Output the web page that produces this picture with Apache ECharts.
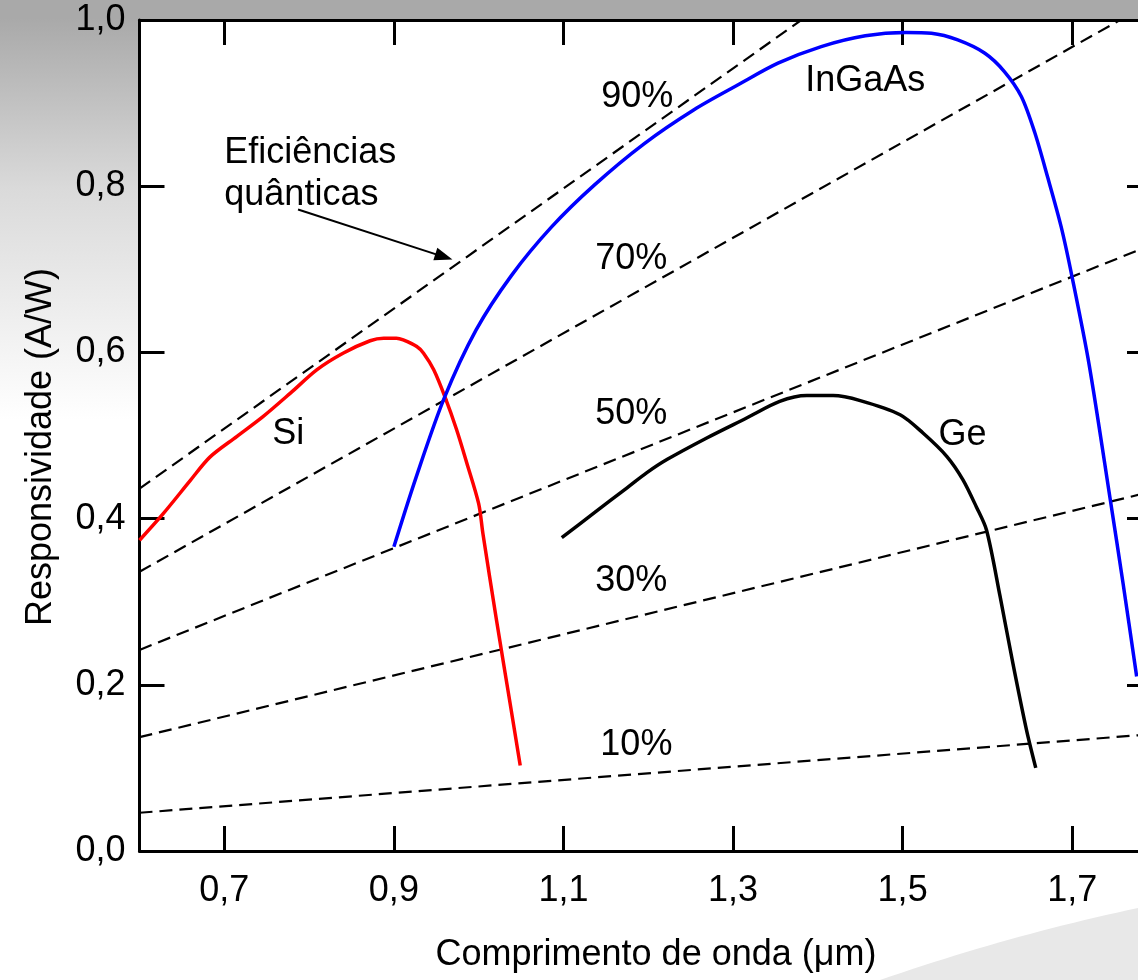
<!DOCTYPE html>
<html>
<head>
<meta charset="utf-8">
<script src="https://cdn.jsdelivr.net/npm/echarts@6/dist/echarts.min.js"></script>
<style>
  html, body { margin: 0; padding: 0; background: #ffffff; }
  #chart { width: 1138px; height: 980px; }
</style>
</head>
<body>
<div id="chart"></div>
<script>
// Responsivity (A/W) versus wavelength (µm) of Si, InGaAs and Ge photodiodes,
// with constant quantum-efficiency lines.

const wavelengthTicks = [0.7, 0.9, 1.1, 1.3, 1.5, 1.7];
const responsivityTicks = [0.0, 0.2, 0.4, 0.6, 0.8, 1.0];

const siCurve = [
  [0.600, 0.374], [0.628, 0.406], [0.660, 0.446], [0.683, 0.474], [0.715, 0.499],
  [0.746, 0.523], [0.778, 0.551], [0.809, 0.579], [0.840, 0.599], [0.872, 0.614],
  [0.888, 0.617], [0.903, 0.617], [0.911, 0.615], [0.927, 0.607], [0.935, 0.599],
  [0.947, 0.579], [0.960, 0.547], [0.974, 0.507], [0.986, 0.467], [1.000, 0.418],
  [1.005, 0.382], [1.021, 0.278], [1.037, 0.178], [1.049, 0.103]
];

const ingaasCurve = [
  [0.900, 0.366], [0.926, 0.449], [0.959, 0.544], [0.997, 0.627], [1.039, 0.693],
  [1.086, 0.751], [1.136, 0.801], [1.195, 0.851], [1.254, 0.892], [1.306, 0.922],
  [1.353, 0.948], [1.404, 0.968], [1.456, 0.981], [1.504, 0.985], [1.534, 0.984],
  [1.565, 0.976], [1.597, 0.960], [1.620, 0.938], [1.640, 0.908], [1.656, 0.864],
  [1.671, 0.811], [1.687, 0.751], [1.700, 0.690], [1.720, 0.585],
  [1.745, 0.422], [1.760, 0.322], [1.776, 0.210]
];

const geCurve = [
  [1.098, 0.377], [1.135, 0.406], [1.175, 0.437], [1.198, 0.455], [1.222, 0.471],
  [1.269, 0.497], [1.316, 0.521], [1.355, 0.541], [1.387, 0.548], [1.418, 0.548],
  [1.450, 0.542], [1.497, 0.525], [1.524, 0.503], [1.552, 0.475], [1.571, 0.447],
  [1.587, 0.414], [1.599, 0.386], [1.615, 0.306], [1.630, 0.226], [1.646, 0.146],
  [1.657, 0.100]
];

// constant quantum efficiency lines (end points)
const eff10 = [[0.6, 0.046], [1.8, 0.141]];
const eff30 = [[0.6, 0.137], [1.8, 0.434]];
const eff50 = [[0.6, 0.242], [1.8, 0.732]];
const eff70 = [[0.6, 0.336], [1.8, 1.025]];
const eff90 = [[0.6, 0.436], [1.8, 1.303]];

// text annotations: [wavelength, responsivity, text]
const curveNames = [
  [0.7755, 0.502, 'Si'],
  [1.456, 0.926, 'InGaAs'],
  [1.5705, 0.501, 'Ge']
];
const efficiencyNames = [
  [1.187, 0.907, '90%'],
  [1.180, 0.712, '70%'],
  [1.180, 0.526, '50%'],
  [1.180, 0.325, '30%'],
  [1.186, 0.128, '10%']
];
const noteLines = [
  [0.700, 0.840, 'Eficiências'],
  [0.700, 0.789, 'quânticas']
];
const arrowFrom = [0.787, 0.772];
const arrowTo = [0.959, 0.715];

const FONT = '"Liberation Sans", Arial, Helvetica, sans-serif';
const FS = 36;
const comma = v => Number(v).toFixed(1).replace('.', ',');

// light swoosh in the lower right corner of the slide (quadratic edge)
function swooshPoints() {
  const p0 = [880, 980], c = [1010, 935], p1 = [1138, 908];
  const pts = [];
  for (let i = 0; i <= 24; i++) {
    const t = i / 24, u = 1 - t;
    pts.push([u * u * p0[0] + 2 * u * t * c[0] + t * t * p1[0],
              u * u * p0[1] + 2 * u * t * c[1] + t * t * p1[1]]);
  }
  pts.push([1138, 980]);
  return pts;
}

const chart = echarts.init(document.getElementById('chart'), null, { renderer: 'canvas' });

function dashed(data) {
  return {
    type: 'line', data: data, symbol: 'none', silent: true, clip: true, z: 2,
    lineStyle: { color: '#000', width: 2.2, type: [13, 7] }
  };
}
function curve(data, color) {
  return {
    type: 'line', data: data, symbol: 'none', silent: true, clip: true, z: 4,
    smooth: 0.3,
    lineStyle: { color: color, width: 3.5, cap: 'butt', join: 'round' }
  };
}
function textSeries(items, align) {
  return {
    type: 'scatter', silent: true, clip: false, z: 6,
    symbolSize: 0.1, itemStyle: { color: 'rgba(0,0,0,0)', opacity: 1 },
    data: items.map(d => ({ value: [d[0], d[1]], name: d[2] })),
    label: {
      show: true, position: 'inside', formatter: p => p.name,
      color: '#000', fontFamily: FONT, fontSize: FS, opacity: 1,
      align: align, verticalAlign: 'middle'
    }
  };
}

const axisCommon = {
  type: 'value',
  splitLine: { show: false },
  axisLine: { show: true, onZero: false, lineStyle: { color: '#000', width: 3 } },
};

chart.setOption({
  animation: false,
  backgroundColor: '#ffffff',
  grid: { left: 139.5, right: -19, top: 20, bottom: 129, containLabel: false, outerBoundsMode: 'none' },
  graphic: [
    {
      type: 'rect', z: -10, silent: true,
      shape: { x: 0, y: 0, width: 139, height: 420 },
      style: {
        fill: new echarts.graphic.LinearGradient(0, 0, 0, 1, [
          { offset: 0, color: '#a4a4a4' },
          { offset: 0.45, color: '#dadada' },
          { offset: 1, color: '#ffffff' }
        ])
      }
    },
    {
      type: 'rect', z: -10, silent: true,
      shape: { x: 0, y: 0, width: 1138, height: 19 },
      style: { fill: '#a9a9a9' }
    },
    {
      type: 'polygon', z: -10, silent: true,
      shape: { points: swooshPoints() },
      style: { fill: '#e8e8e8' }
    },
    {
      type: 'text', silent: true, x: 656, y: 955, z: 6,
      style: {
        text: 'Comprimento de onda (\u03bcm)', fill: '#000', font: FS + 'px ' + FONT,
        align: 'center', verticalAlign: 'middle'
      }
    },
    {
      type: 'text', silent: true, x: 41, y: 447, rotation: Math.PI / 2, z: 6,
      style: {
        text: 'Responsividade (A/W)', fill: '#000', font: FS + 'px ' + FONT,
        align: 'center', verticalAlign: 'middle'
      }
    }
  ],
  xAxis: [
    Object.assign({}, axisCommon, {
      position: 'bottom', min: 0.6, max: 1.8,
      axisTick: { show: true, inside: true, length: 25, customValues: wavelengthTicks,
                  lineStyle: { color: '#000', width: 3 } },
      axisLabel: { show: true, customValues: wavelengthTicks, formatter: comma, margin: 22,
                   color: '#000', fontFamily: FONT, fontSize: FS }
    }),
    Object.assign({}, axisCommon, {
      position: 'top', min: 0.6, max: 1.8,
      axisTick: { show: true, inside: true, length: 25, customValues: wavelengthTicks,
                  lineStyle: { color: '#000', width: 3 } },
      axisLabel: { show: false }
    })
  ],
  yAxis: [
    Object.assign({}, axisCommon, {
      position: 'left', min: 0, max: 1, interval: 0.2,
      axisTick: { show: true, inside: true, length: 25, customValues: responsivityTicks,
                  lineStyle: { color: '#000', width: 3 } },
      axisLabel: { show: true, customValues: responsivityTicks, formatter: comma, margin: 14,
                   color: '#000', fontFamily: FONT, fontSize: FS }
    }),
    Object.assign({}, axisCommon, {
      position: 'right', min: 0, max: 1, interval: 0.2,
      axisTick: { show: true, inside: true, length: 30, customValues: responsivityTicks,
                  lineStyle: { color: '#000', width: 3 } },
      axisLabel: { show: false }
    })
  ],
  series: [
    dashed(eff10), dashed(eff30), dashed(eff50), dashed(eff70),
    Object.assign(dashed(eff90), {
      markLine: {
        silent: true, symbol: ['none', 'triangle'], symbolSize: [13, 18],
        label: { show: false },
        lineStyle: { color: '#000', width: 2, type: 'solid' },
        data: [[{ coord: arrowFrom }, { coord: arrowTo }]]
      }
    }),
    curve(siCurve, '#ff0000'),
    curve(ingaasCurve, '#0000ff'),
    curve(geCurve, '#000000'),
    textSeries(curveNames, 'center'),
    textSeries(efficiencyNames, 'center'),
    textSeries(noteLines, 'left')
  ]
});
</script>
</body>
</html>
